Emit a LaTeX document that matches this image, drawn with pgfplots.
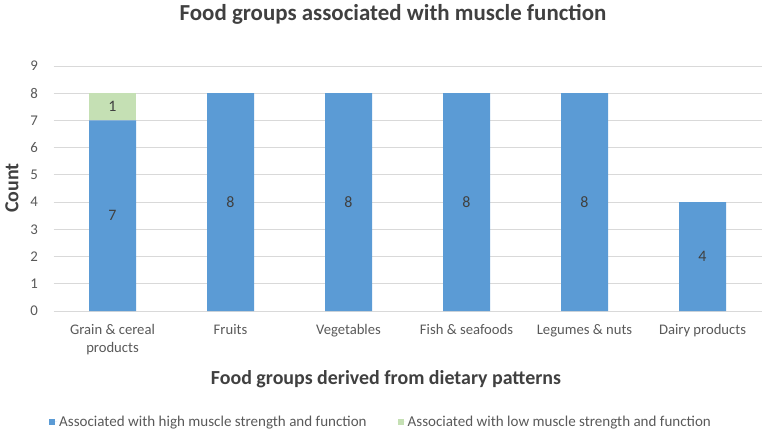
\documentclass[border=0pt]{standalone}
\usepackage{fontspec}
\setmainfont{Carlito}
\usepackage{pgfplots}
\pgfplotsset{compat=1.18}
\definecolor{barblue}{HTML}{5B9BD5}
\definecolor{bargreen}{HTML}{C5E0B4}
\definecolor{tickgray}{HTML}{595959}
\definecolor{titlegray}{HTML}{404040}
\definecolor{gridgray}{HTML}{D9D9D9}
\pgfplotsset{
  geom/.style={at={(53.5bp,121bp)}, anchor=south west,
    scale only axis, width=708bp, height=245bp,
    xmin=-0.5, xmax=5.5, ymin=0, ymax=9},
}
\begin{document}
\begin{tikzpicture}[x=1bp,y=1bp]
\path[use as bounding box] (0,0) rectangle (765,432);
\begin{axis}[
  geom,
  ybar stacked, bar width=47bp,
  ytick={0,1,...,9}, xtick={0,1,...,5},
  xticklabels={{Grain \& cereal\\products},Fruits,Vegetables,{Fish \& seafoods},{Legumes \& nuts},{Dairy products}},
  axis line style={draw=none},
  tick style={draw=none},
  ymajorgrids, grid style={gridgray, line width=1bp},
  /pgf/number format/assume math mode=true,
  yticklabel style={font=\fontsize{14.9}{17}\selectfont, text=tickgray, anchor=east, inner sep=0pt, xshift=-15.5bp},
  xticklabel style={font=\fontsize{14.7}{18}\selectfont, text=tickgray, anchor=north, align=center, inner sep=0pt, yshift=-13bp},
  every axis title shift=0pt,
  title={Food groups associated with muscle function},
  title style={font=\bfseries\fontsize{23}{27}\selectfont, text=titlegray, at={(axis description cs:0.4795,1.212)}, anchor=center, inner sep=0pt},
  xlabel={Food groups derived from dietary patterns},
  xlabel style={font=\bfseries\fontsize{20}{24}\selectfont, text=titlegray, at={(axis description cs:0.4696,-0.2776)}, anchor=center, inner sep=0pt},
  ylabel={Count},
  ylabel style={font=\bfseries\fontsize{20}{24}\selectfont, text=titlegray, at={(axis description cs:-0.0586,0.502)}, anchor=center, rotate=0, inner sep=0pt},
  legend columns=2,
  legend style={at={(axis description cs:-0.00636,-0.453)}, anchor=west, draw=none, fill=none,
    font=\fontsize{15.1}{18}\selectfont, text=tickgray,
    /tikz/every even column/.append style={column sep=29bp}, inner sep=0pt},
  legend image code/.code={\fill[#1] (0bp,-3bp) rectangle (6bp,3bp); \path (0bp,0bp) -- (8bp,0bp);},
]
\addplot[fill=barblue, draw=none] coordinates {(0,7) (1,8) (2,8) (3,8) (4,8) (5,4)};
\addplot[fill=bargreen, draw=none] coordinates {(0,1)};
\legend{Associated with high muscle strength and function, Associated with low muscle strength and function}
\end{axis}
\begin{axis}[
  geom, hide axis,
  point meta=explicit symbolic,
  nodes near coords={\pgfplotspointmeta},
  nodes near coords style={font=\fontsize{16}{19}\selectfont, text=titlegray, anchor=center, inner sep=0pt},
]
\addplot[draw=none, mark=none] coordinates {(0,3.5) [7] (1,4) [8] (2,4) [8] (3,4) [8] (4,4) [8] (5,2) [4] (0,7.5) [1]};
\end{axis}
\end{tikzpicture}
\end{document}
